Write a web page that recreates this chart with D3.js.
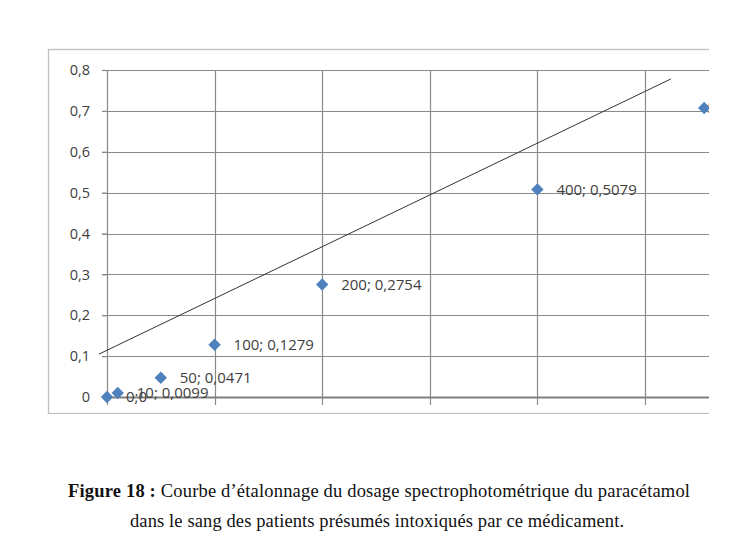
<!DOCTYPE html>
<html><head><meta charset="utf-8">
<script src="https://cdn.jsdelivr.net/npm/d3@7"></script>
<style>body{margin:0;background:#fff}svg{display:block}</style>
</head><body>
<script>
const concentrations = [0, 10, 50, 100, 200, 400, 555];
const absorbances   = [0, 0.0099, 0.0471, 0.1279, 0.2754, 0.5079, 0.707];
const pointLabels   = ["0;0", "10; 0,0099", "50; 0,0471", "100; 0,1279", "200; 0,2754", "400; 0,5079", "555; 0,707"];
const yTicks = [0, 0.1, 0.2, 0.3, 0.4, 0.5, 0.6, 0.7, 0.8];
const yTickLabels = ["0", "0,1", "0,2", "0,3", "0,4", "0,5", "0,6", "0,7", "0,8"];
const xTicks = [0, 100, 200, 300, 400, 500, 600];
const trendX = [-7.4, 524];
const trendY = [0.105, 0.778];
const captionBold = "Figure 18 :";
const captionLine1 = " Courbe d’étalonnage du dosage spectrophotométrique du paracétamol";
const captionLine2 = "dans le sang des patients présumés intoxiqués par ce médicament.";

const W = 750, H = 541;
const svg = d3.select("body").append("svg").attr("width", W).attr("height", H);
svg.append("defs").append("clipPath").attr("id", "cc")
  .append("rect").attr("x", 0).attr("y", 0).attr("width", 709).attr("height", 414);

const x = d3.scaleLinear().domain([0, 600]).range([107, 752.6]);
const y = d3.scaleLinear().domain([0, 0.8]).range([397, 70]);

const g = svg.append("g").attr("clip-path", "url(#cc)");

// chart border
g.append("rect").attr("x", 48.5).attr("y", 49.5).attr("width", 760).attr("height", 364)
  .attr("fill", "none").attr("stroke", "#bfbfbf").attr("stroke-width", 1.3);

// horizontal gridlines
g.append("g").selectAll("line").data(yTicks.filter(d => d > 0)).join("line")
  .attr("x1", 102).attr("x2", 760)
  .attr("y1", d => Math.round(y(d)) + 0.5).attr("y2", d => Math.round(y(d)) + 0.5)
  .attr("stroke", "#8a8a8a").attr("stroke-width", 1.2);

// vertical gridlines
g.append("g").selectAll("line").data(xTicks).join("line")
  .attr("x1", d => Math.round(x(d)) + 0.5).attr("x2", d => Math.round(x(d)) + 0.5)
  .attr("y1", y(0.8)).attr("y2", y(0) + 8)
  .attr("stroke", "#8a8a8a").attr("stroke-width", 1.2);

// x axis line
g.append("line").attr("x1", x(0)).attr("x2", 760).attr("y1", y(0) + 0.5).attr("y2", y(0) + 0.5)
  .attr("stroke", "#7f7f7f").attr("stroke-width", 2);

// y tick labels
const yAxis = d3.axisLeft(y).tickValues(yTicks).tickSize(5).tickPadding(12)
  .tickFormat((d, i) => yTickLabels[i]);
const ya = g.append("g").attr("transform", `translate(${x(0)},0)`).call(yAxis);
ya.select(".domain").remove();
ya.selectAll(".tick line").attr("stroke", "#8a8a8a").attr("stroke-width", 1.2);
ya.selectAll(".tick text").attr("fill", "#404040")
  .style("font-family", "'Open Sans', sans-serif").style("font-size", "14.5px");

// trendline
g.append("line")
  .attr("x1", x(trendX[0])).attr("y1", y(trendY[0]))
  .attr("x2", x(trendX[1])).attr("y2", y(trendY[1]))
  .attr("stroke", "#333").attr("stroke-width", 1);

// markers
const pts = concentrations.map((c, i) => ({c, a: absorbances[i], l: pointLabels[i], last: i === concentrations.length - 1}));

// labels
g.append("g").selectAll("text").data(pts).join("text")
  .attr("x", d => x(d.c) + (d.last ? 3 : 19)).attr("y", d => y(d.a)).attr("dy", "0.35em")
  .attr("fill", "#404040")
  .style("font-family", "'Open Sans', sans-serif").style("font-size", "15px")
  .text(d => d.l);

g.append("g").selectAll("path").data(pts).join("path")
  .attr("transform", d => `translate(${x(d.c)},${y(d.a)})`)
  .attr("d", d3.symbol().type(d3.symbolDiamond2).size(98))
  .attr("fill", "#4f81bd");

// caption
const cap = svg.append("text").attr("x", 379).attr("y", 497).attr("text-anchor", "middle")
  .attr("textLength", 622).attr("lengthAdjust", "spacing")
  .style("font-family", "'Liberation Serif', 'Times New Roman', serif").style("font-size", "18.5px").attr("fill", "#111");
cap.append("tspan").style("font-weight", "bold").text(captionBold);
cap.append("tspan").text(captionLine1);
svg.append("text").attr("x", 377).attr("y", 527).attr("text-anchor", "middle")
  .attr("textLength", 494).attr("lengthAdjust", "spacing")
  .style("font-family", "'Liberation Serif', 'Times New Roman', serif").style("font-size", "18.5px").attr("fill", "#111")
  .text(captionLine2);
</script>
</body></html>
